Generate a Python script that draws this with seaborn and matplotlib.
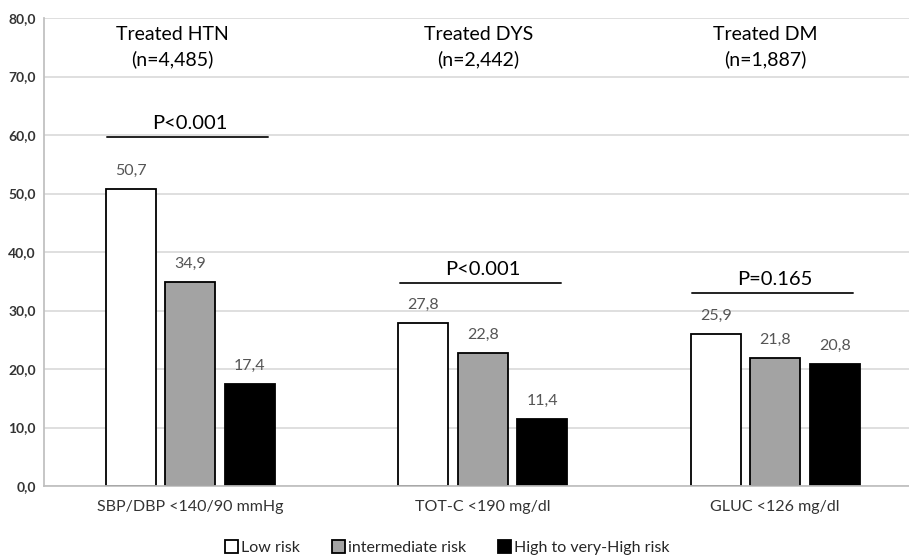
import pandas as pd
import matplotlib.pyplot as plt
import seaborn as sns
from matplotlib.ticker import FuncFormatter

# Datos
categorias = ['SBP/DBP <140/90 mmHg', 'TOT-C <190 mg/dl', 'GLUC <126 mg/dl']
riesgos = ['Low risk', 'intermediate risk', 'High to very-High risk']
low_risk = [50.7, 27.8, 25.9]
intermediate_risk = [34.9, 22.8, 21.8]
high_risk = [17.4, 11.4, 20.8]
titulos = ['Treated HTN\n(n=4,485)', 'Treated DYS\n(n=2,442)', 'Treated DM\n(n=1,887)']
p_valores = ['P<0.001', 'P<0.001', 'P=0.165']
p_altura = [59.7, 34.7, 33.0]

sns.set_theme(style="white")
plt.rcParams['font.family'] = ['Lato', 'DejaVu Sans']

df = pd.DataFrame({
    'Categoria': categorias * 3,
    'Riesgo': [r for r in riesgos for _ in categorias],
    'Valor': low_risk + intermediate_risk + high_risk,
})

fig = plt.figure(figsize=(9.09, 5.56), dpi=100)
ax = fig.add_axes([0.0484, 0.1259, 0.9653, 0.8417])

colores = ['white', '#a3a3a3', 'black']
sns.barplot(data=df, x='Categoria', y='Valor', hue='Riesgo', palette=colores,
            width=0.61, gap=0.16, edgecolor='black', linewidth=1.3, ax=ax)

for cont in ax.containers:
    ax.bar_label(cont, labels=[f'{v:.1f}'.replace('.', ',') for v in cont.datavalues],
                 padding=8, fontsize=11.5, color='#555555')

ax.set_ylim(0, 80)
ax.set_xlim(-0.5, 2.5)
ax.set_yticks(range(0, 81, 10))
ax.yaxis.set_major_formatter(FuncFormatter(lambda v, p: f'{v:.1f}'.replace('.', ',')))
ax.grid(axis='y', color='#d9d9d9', linewidth=1.2)
ax.set_axisbelow(True)
for s in ['top', 'right']:
    ax.spines[s].set_visible(False)
ax.spines['left'].set_color('#bfbfbf')
ax.spines['bottom'].set_color('#bfbfbf')
ax.tick_params(axis='y', labelsize=10, colors='#333333', length=0, pad=6)
ax.tick_params(axis='x', labelsize=11.5, colors='#333333', length=0, pad=10)
for lbl in ax.get_yticklabels():
    lbl.set_fontweight('bold')
ax.set_xlabel('')
ax.set_ylabel('')

# Títulos de grupo
for i, (t, x) in enumerate(zip(titulos, [-0.06, -0.015, -0.034])):
    ax.text(i + x, 75, t, ha='center', va='center', fontsize=14, color='black',
            linespacing=1.45)

# Líneas de P
for i, (p, h) in enumerate(zip(p_valores, p_altura)):
    ax.plot([i - 0.284, i + 0.267], [h, h], color='#222222', linewidth=1.4)
    ax.text(i, h + 0.8, p, ha='center', va='bottom', fontsize=14.5, color='black')

ax.legend(loc='center', bbox_to_anchor=(0.46, -0.132), ncol=3, frameon=False,
          fontsize=11.5, handlelength=0.8, handleheight=0.8, handletextpad=0.2,
          columnspacing=2.0)

plt.savefig('out.png', dpi=100)
plt.close()
